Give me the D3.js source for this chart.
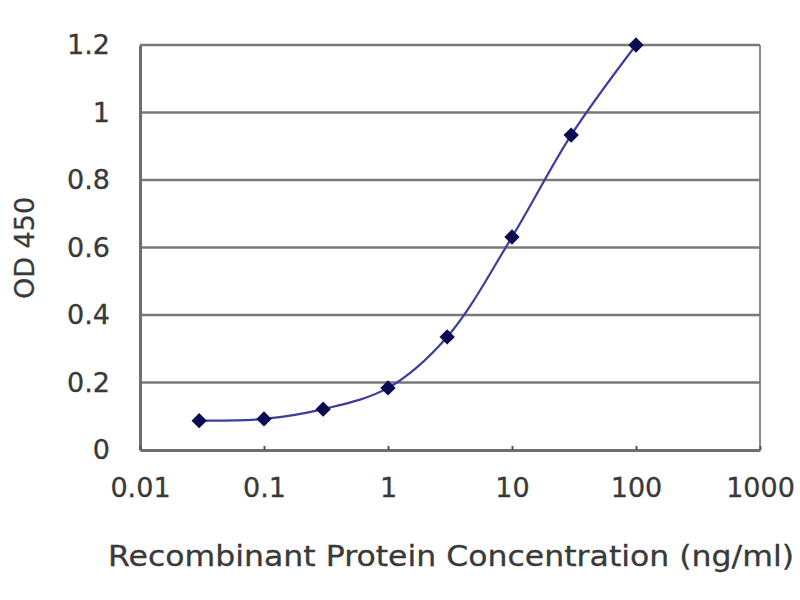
<!DOCTYPE html>
<html>
<head>
<meta charset="utf-8">
<script src="https://cdn.jsdelivr.net/npm/d3@7"></script>
<style>
  html, body { margin: 0; padding: 0; background: #fff; }
  svg { display: block; }
  text { font-family: "DejaVu Sans", "Liberation Sans", Arial, sans-serif; fill: #3a3a3a; }
</style>
</head>
<body>
<svg id="chart" width="800" height="600"></svg>
<script>
// Data
const concentrations = [0.03, 0.1, 0.3, 1, 3, 10, 30, 100];
const odValues = [0.087, 0.092, 0.121, 0.184, 0.335, 0.631, 0.933, 1.2];
const xTickValues = [0.01, 0.1, 1, 10, 100, 1000];
const xTickLabels = ["0.01", "0.1", "1", "10", "100", "1000"];
const yTickValues = [0, 0.2, 0.4, 0.6, 0.8, 1, 1.2];
const yTickLabels = ["0", "0.2", "0.4", "0.6", "0.8", "1", "1.2"];
const xTitle = "Recombinant Protein Concentration (ng/ml)";
const yTitle = "OD 450";

const svg = d3.select("#chart");
const plot = { left: 140, right: 760, top: 45, bottom: 450 };

const x = d3.scaleLog().domain([0.01, 1000]).range([plot.left, plot.right]);
const y = d3.scaleLinear().domain([0, 1.2]).range([plot.bottom, plot.top]);

// right border
svg.append("line")
  .attr("x1", plot.right).attr("x2", plot.right)
  .attr("y1", plot.top).attr("y2", plot.bottom)
  .attr("stroke", "#8c8c8c").attr("stroke-width", 2);

// horizontal gridlines
svg.append("g").selectAll("line")
  .data(yTickValues.filter(v => v > 0))
  .join("line")
  .attr("x1", plot.left).attr("x2", plot.right)
  .attr("y1", d => y(d)).attr("y2", d => y(d))
  .attr("stroke", "#7a7a7a").attr("stroke-width", 2.5);

// Y axis
const yAxis = d3.axisLeft(y).tickValues(yTickValues)
  .tickFormat((d, i) => yTickLabels[i]).tickSize(0).tickPadding(30);
const gy = svg.append("g").attr("transform", `translate(${plot.left},0)`).call(yAxis);
gy.select(".domain").attr("stroke", "#6e6e6e").attr("stroke-width", 3);
gy.selectAll("text").attr("font-size", 27).attr("fill", "#333")
  .attr("stroke", "#333").attr("stroke-width", 0.3)
  .attr("font-family", '"DejaVu Sans", sans-serif');

// X axis
const xAxis = d3.axisBottom(x).tickValues(xTickValues)
  .tickFormat((d, i) => xTickLabels[i]).tickSizeInner(-4).tickSizeOuter(0).tickPadding(28);
const gx = svg.append("g").attr("transform", `translate(0,${plot.bottom})`).call(xAxis);
gx.select(".domain").attr("stroke", "#6e6e6e").attr("stroke-width", 3);
gx.selectAll(".tick line").attr("stroke", "#555").attr("stroke-width", 2);
gx.selectAll("text").attr("font-size", 27).attr("fill", "#333")
  .attr("stroke", "#333").attr("stroke-width", 0.3)
  .attr("font-family", '"DejaVu Sans", sans-serif');

// axis titles
svg.append("text")
  .attr("x", 451).attr("y", 566)
  .attr("text-anchor", "middle")
  .attr("font-size", 29)
  .attr("fill", "#333").attr("stroke", "#333").attr("stroke-width", 0.3)
  .attr("textLength", 686).attr("lengthAdjust", "spacingAndGlyphs")
  .text(xTitle);

svg.append("text")
  .attr("transform", "translate(34,248) rotate(-90)")
  .attr("text-anchor", "middle")
  .attr("font-size", 27)
  .attr("fill", "#333").attr("stroke", "#333").attr("stroke-width", 0.3)
  .text(yTitle);

// data
const pts = concentrations.map((c, i) => [x(c), y(odValues[i])]);

svg.append("path")
  .attr("d", d3.line().curve(d3.curveCatmullRom.alpha(0.5))(pts))
  .attr("fill", "none")
  .attr("stroke", "#3d3d9c")
  .attr("stroke-width", 2.2);

svg.append("g").selectAll("path")
  .data(pts)
  .join("path")
  .attr("transform", d => `translate(${d[0]},${d[1]})`)
  .attr("d", d3.symbol().type(d3.symbolDiamond2).size(150))
  .attr("fill", "#0c0c52");
</script>
</body>
</html>
